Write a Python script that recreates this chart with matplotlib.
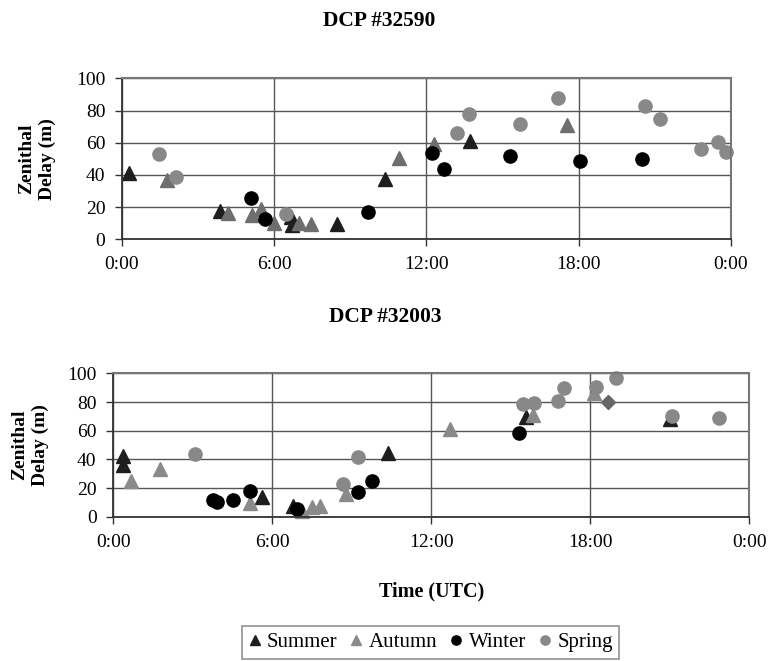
import matplotlib.pyplot as plt
import numpy as np

plt.rcParams['font.family'] = ['Liberation Serif', 'DejaVu Serif']

tick_hours = [0, 6, 12, 18, 24]
tick_labels = ['0:00', '6:00', '12:00', '18:00', '0:00']

# DCP #32590  (hour of day, zenithal delay in m)
top_summer_t = [0.29, 3.88, 6.68, 6.72, 8.48, 10.37, 13.73]
top_summer_v = [41, 17.8, 14, 8.9, 9.5, 37.3, 61.3]
top_autumn_t = [1.76, 4.16, 5.14, 5.47, 5.98, 6.98, 7.43, 10.92, 12.28, 17.55]
top_autumn_v = [36.8, 16.5, 15.1, 18.6, 10.3, 10.3, 9.5, 50.7, 59.4, 71]
top_winter_t = [5.07, 5.63, 9.71, 12.2, 12.68, 15.29, 18.04, 20.5]
top_winter_v = [25.4, 12.4, 16.8, 53.8, 43.7, 51.6, 48.8, 49.9]
top_spring_t = [1.47, 2.13, 6.46, 13.2, 13.66, 15.68, 17.2, 20.6, 21.2, 22.83, 23.48, 23.81]
top_spring_v = [52.8, 38.5, 15.7, 66.2, 77.6, 71.4, 88, 82.8, 74.5, 56, 60.2, 54]

# DCP #32003
bot_summer_t = [0.38, 0.38, 5.62, 6.77, 10.38, 15.57, 21.0]
bot_summer_v = [42.7, 36.2, 13.7, 7.9, 44.3, 69.8, 68.5]
bot_autumn_t = [0.66, 1.76, 5.16, 7.11, 7.49, 7.8, 8.78, 12.71, 15.85, 18.14]
bot_autumn_v = [25.3, 33.4, 10, 4.4, 6.7, 7.9, 15.8, 61, 71, 86]
bot_winter_t = [3.77, 3.92, 4.52, 5.16, 6.94, 9.22, 9.75, 15.31]
bot_winter_v = [11.6, 10.2, 11.6, 18.3, 5.6, 17.2, 25.3, 58.7]
bot_spring_t = [3.08, 8.68, 9.22, 15.45, 15.89, 16.77, 17.0, 18.22, 18.97, 21.1, 22.87]
bot_spring_v = [43.8, 23.2, 41.8, 78.6, 79.5, 80.7, 89.5, 90.2, 96.5, 70.3, 69.1]
bot_other_t = [18.67]
bot_other_v = [80.2]

summer_c = '#1e1e1e'
winter_c = '#000000'
spring_c = '#888888'

fig = plt.figure(figsize=(7.69, 6.61), dpi=100)
ax1 = fig.add_axes([0.1586, 0.638, 0.792, 0.2435])
ax2 = fig.add_axes([0.1473, 0.218, 0.827, 0.2172])


def style(ax, label_x):
    ax.set_xlim(0, 24)
    ax.set_ylim(0, 100)
    ax.set_xticks(tick_hours)
    ax.set_xticklabels(tick_labels)
    ax.set_yticks(np.arange(0, 101, 20))
    ax.grid(True, color='#555555', linewidth=1.0)
    ax.set_axisbelow(True)
    for s in ['top', 'right']:
        ax.spines[s].set_color('#777777')
        ax.spines[s].set_linewidth(1.5)
    for s in ['left', 'bottom']:
        ax.spines[s].set_color('#333333')
        ax.spines[s].set_linewidth(1.3)
    ax.tick_params(labelsize=14, length=5, width=1.0, color='#333333')
    ax.tick_params(axis='y', pad=7)
    ax.tick_params(axis='x', pad=7)
    ax.set_ylabel('Zenithal\nDelay (m)', fontsize=14, fontweight='bold',
                  linespacing=1.25, va='center')
    ax.yaxis.set_label_coords(label_x, 0.5)


ms = 9.5
for ax, lx, ac, data in [
    (ax1, -0.14, '#6e6e6e',
     (top_summer_t, top_summer_v, top_autumn_t, top_autumn_v,
      top_winter_t, top_winter_v, top_spring_t, top_spring_v)),
    (ax2, -0.131, '#8a8a8a',
     (bot_summer_t, bot_summer_v, bot_autumn_t, bot_autumn_v,
      bot_winter_t, bot_winter_v, bot_spring_t, bot_spring_v)),
]:
    style(ax, lx)
    st, sv, at, av, wt, wv, pt, pv = data
    ax.plot(st, sv, '^', color=summer_c, ms=ms, label='Summer', clip_on=False)
    ax.plot(at, av, '^', color=ac, ms=ms, label='Autumn', clip_on=False)
    ax.plot(wt, wv, 'o', color=winter_c, ms=ms, label='Winter', clip_on=False)
    ax.plot(pt, pv, 'o', color=spring_c, ms=ms, label='Spring', clip_on=False)

ax2.plot(bot_other_t, bot_other_v, 'D', color='#666666', ms=7, clip_on=False)

ax1.set_title('DCP #32590', fontsize=15.5, fontweight='bold', pad=38, x=0.422)
ax2.set_title('DCP #32003', fontsize=15.5, fontweight='bold', pad=37, x=0.427)
ax2.set_xlabel('Time (UTC)', fontsize=14.5, fontweight='bold', labelpad=22)

handles, labels = ax2.get_legend_handles_labels()
leg = fig.legend(handles[:4], labels[:4], loc='lower center', ncol=4,
                 bbox_to_anchor=(0.56, -0.012), fontsize=15, frameon=True,
                 fancybox=False, edgecolor='#777777', handlelength=0.6,
                 handletextpad=0.3, columnspacing=0.6, markerscale=0.7,
                 borderpad=0.3)
leg.get_frame().set_linewidth(1.2)

fig.savefig('out.png', dpi=100)
